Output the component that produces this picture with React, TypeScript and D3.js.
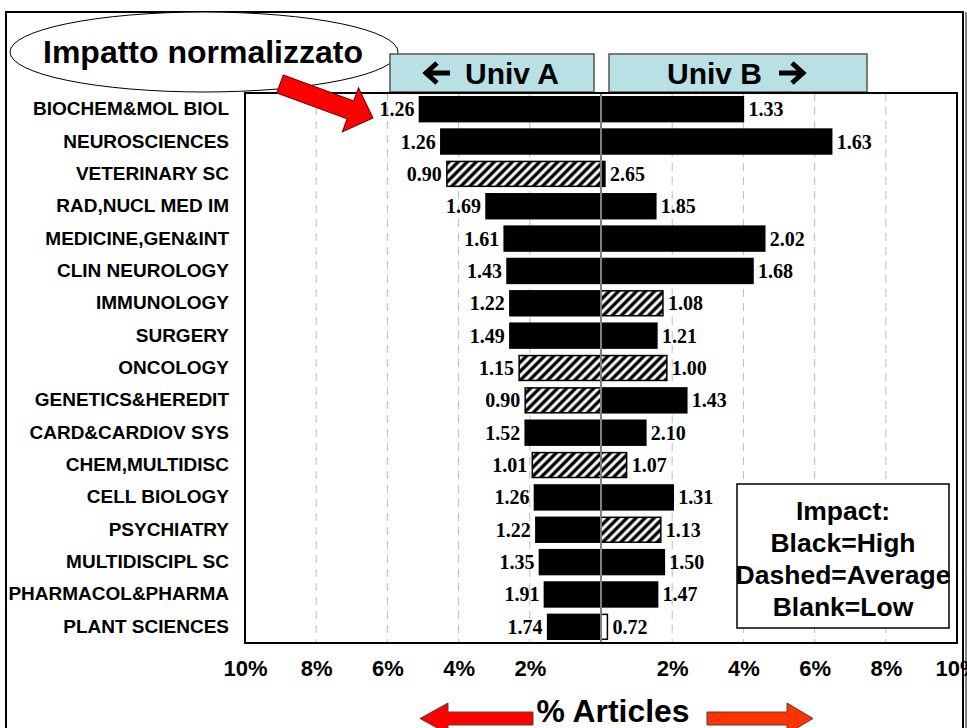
import * as d3 from "d3"
import { useRef, useEffect } from "react"

// share of articles (%) per field, Univ A (left) and Univ B (right)
const categories = [
  "BIOCHEM&MOL BIOL", "NEUROSCIENCES", "VETERINARY SC", "RAD,NUCL MED IM",
  "MEDICINE,GEN&INT", "CLIN NEUROLOGY", "IMMUNOLOGY", "SURGERY", "ONCOLOGY",
  "GENETICS&HEREDIT", "CARD&CARDIOV SYS", "CHEM,MULTIDISC", "CELL BIOLOGY",
  "PSYCHIATRY", "MULTIDISCIPL SC", "PHARMACOL&PHARMA", "PLANT SCIENCES",
]
const articlesA = [5.1, 4.5, 4.33, 3.23, 2.72, 2.64, 2.56, 2.56, 2.3, 2.13, 2.13, 1.93, 1.87, 1.83, 1.73, 1.59, 1.5]
const articlesB = [4.0, 6.48, 0.11, 1.54, 4.6, 4.27, 1.74, 1.57, 1.85, 2.41, 1.26, 0.72, 2.03, 1.68, 1.78, 1.59, 0.18]

// normalized impact labels
const impactA = ["1.26", "1.26", "0.90", "1.69", "1.61", "1.43", "1.22", "1.49", "1.15", "0.90", "1.52", "1.01", "1.26", "1.22", "1.35", "1.91", "1.74"]
const impactB = ["1.33", "1.63", "2.65", "1.85", "2.02", "1.68", "1.08", "1.21", "1.00", "1.43", "2.10", "1.07", "1.31", "1.13", "1.50", "1.47", "0.72"]

// impact class -> fill
const classA = ["high", "high", "avg", "high", "high", "high", "high", "high", "avg", "avg", "high", "avg", "high", "high", "high", "high", "high"]
const classB = ["high", "high", "high", "high", "high", "high", "avg", "high", "avg", "high", "high", "avg", "high", "avg", "high", "high", "low"]

const tickValues = [-10, -8, -6, -4, -2, 2, 4, 6, 8, 10]
const gridValues = [-8, -6, -4, -2, 2, 4, 6, 8]
const legendLines = ["Impact:", "Black=High", "Dashed=Average", "Blank=Low"]

const fillFor = (c: string) => (c === "high" ? "#000" : c === "avg" ? "url(#hatch)" : "#fff")

const sans = "'Liberation Sans', Arial, sans-serif"
const serif = "'Liberation Serif', 'Times New Roman', serif"

function App() {
  const width = 967
  const height = 728
  const plot = { left: 245, right: 957, top: 93, bottom: 643 }

  const x = d3.scaleLinear().domain([-10, 10]).range([plot.left, plot.right])
  const y = d3.scaleBand<string>()
    .domain(categories)
    .range([plot.top, plot.bottom])
    .paddingInner(0.23)
    .paddingOuter(0.115)

  const bh = y.bandwidth()
  const x0 = x(0)

  const axisRef = useRef<SVGGElement>(null)
  useEffect(() => {
    const axis = d3.axisBottom(x)
      .tickValues(tickValues)
      .tickSize(0)
      .tickFormat(d => Math.abs(+d) + "%")
    const g = d3.select(axisRef.current!)
    g.call(axis)
    g.select(".domain").remove()
    g.selectAll("text")
      .attr("font-family", sans)
      .attr("font-weight", "bold")
      .attr("font-size", 22)
      .attr("fill", "#000")
      .attr("dy", 0)
      .attr("y", 33)
  }, [])

  return (
    <svg width={width} height={height} style={{ position: "absolute", left: 0, top: 0, background: "#fff" }}>
      <defs>
        <pattern id="hatch" width={6.4} height={6.4} patternUnits="userSpaceOnUse" patternTransform="rotate(45)">
          <rect width={6.4} height={6.4} fill="#fff" />
          <line x1={3.2} y1={0} x2={3.2} y2={6.4} stroke="#000" strokeWidth={3.4} />
        </pattern>
      </defs>

      {/* slide frame */}
      <rect x={6} y={12} width={957} height={730} fill="none" stroke="#000" strokeWidth={2} />
      <line x1={966} y1={12} x2={966} y2={728} stroke="#000" strokeWidth={1} />

      {/* title bubble */}
      <ellipse cx={204} cy={52} rx={194} ry={40} fill="#fff" stroke="#000" strokeWidth={1} />
      <text x={203} y={63} textAnchor="middle" fontFamily={sans} fontWeight="bold" fontSize={32}>
        Impatto normalizzato
      </text>

      {/* university headers */}
      <rect x={390} y={54} width={204} height={38} fill="#b9e0e4" stroke="#555" strokeWidth={1.5} />
      <rect x={609} y={54} width={258} height={38} fill="#b9e0e4" stroke="#555" strokeWidth={1.5} />
      <path d="M450,73 H427 M437,63 L426,73 L437,83" fill="none" stroke="#000" strokeWidth={5} strokeLinejoin="miter" />
      <text x={465} y={84} fontFamily={sans} fontWeight="bold" fontSize={30}>Univ A</text>
      <text x={667} y={84} fontFamily={sans} fontWeight="bold" fontSize={30}>Univ B</text>
      <path d="M779,73 H802 M792,63 L803,73 L792,83" fill="none" stroke="#000" strokeWidth={5} strokeLinejoin="miter" />

      {/* grid */}
      {gridValues.map(v => (
        <line key={v} x1={x(v)} x2={x(v)} y1={plot.top} y2={plot.bottom}
          stroke="#bbb" strokeWidth={1} strokeDasharray="8,6" />
      ))}

      {/* bars */}
      {categories.map((c, i) => {
        const yy = y(c)!
        const xa = x(-articlesA[i])
        const xb = x(articlesB[i])
        return (
          <g key={c}>
            <rect x={xa} y={yy} width={x0 - xa} height={bh} fill={fillFor(classA[i])} stroke="#000" strokeWidth={1.5} />
            <rect x={x0} y={yy} width={xb - x0} height={bh} fill={fillFor(classB[i])} stroke="#000" strokeWidth={1.5} />
            <text x={xa - 5} y={yy + bh / 2 + 7} textAnchor="end" fontFamily={serif} fontWeight="bold" fontSize={20}>
              {impactA[i]}
            </text>
            <text x={xb + 5} y={yy + bh / 2 + 7} textAnchor="start" fontFamily={serif} fontWeight="bold" fontSize={20}>
              {impactB[i]}
            </text>
            <text x={229} y={yy + bh / 2 + 6} textAnchor="end" fontFamily={sans} fontWeight="bold" fontSize={19}>
              {c}
            </text>
          </g>
        )
      })}

      {/* centre line and plot frame */}
      <line x1={x0} x2={x0} y1={plot.top} y2={plot.bottom} stroke="#808080" strokeWidth={2} />
      <rect x={plot.left} y={plot.top} width={plot.right - plot.left} height={plot.bottom - plot.top}
        fill="none" stroke="#000" strokeWidth={2} />

      <g ref={axisRef} transform={`translate(0, ${plot.bottom})`} />

      {/* red arrow to the first label */}
      <g transform="translate(280,84) rotate(20.1)">
        <polygon points="0,-9.5 75,-9.5 75,-23.5 99,0 75,23.5 75,9.5 0,9.5" fill="#ff0000" stroke="#600" strokeWidth={1} />
      </g>

      {/* legend */}
      <rect x={737} y={484} width={212} height={144} fill="#fff" stroke="#000" strokeWidth={1.5} />
      {legendLines.map((t, i) => (
        <text key={t} x={843} y={520 + i * 32} textAnchor="middle" fontFamily={sans} fontWeight="bold" fontSize={26.5}>
          {t}
        </text>
      ))}

      {/* x title with arrows */}
      <polygon points="420,718.5 448,703 448,712 533,712 533,725 448,725 448,734" fill="#ff0000" stroke="#444" strokeWidth={1} />
      <polygon points="813,718.5 787,703 787,712 707,712 707,725 787,725 787,734" fill="#ff3300" stroke="#444" strokeWidth={1} />
      <text x={613} y={722} textAnchor="middle" fontFamily={sans} fontWeight="bold" fontSize={32}
        textLength={153} lengthAdjust="spacingAndGlyphs">
        % Articles
      </text>
    </svg>
  )
}

export default App
